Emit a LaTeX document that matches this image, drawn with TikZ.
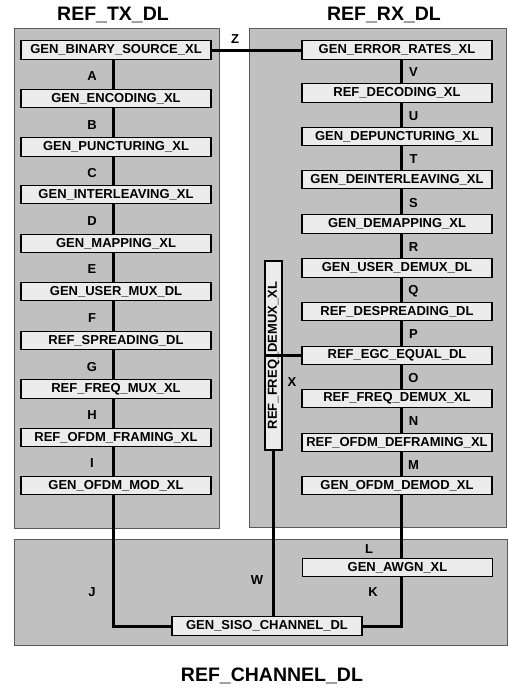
\documentclass[tikz,border=0pt]{standalone}
\usepackage{fontspec}
\setmainfont{Liberation Sans}
\usetikzlibrary{calc,positioning}
\definecolor{boxgray}{RGB}{192,192,192}
\definecolor{blkgray}{RGB}{236,236,236}
\definecolor{edgegray}{RGB}{90,90,90}
\begin{document}
\begin{tikzpicture}[x=1pt,y=-1pt,
blk/.style={draw,line width=1.3pt,fill=blkgray,minimum width=190pt,minimum height=18.5pt,inner sep=0pt,font=\bfseries\fontsize{13}{15}\selectfont},
lbl/.style={inner sep=0pt,font=\bfseries\fontsize{13}{15}\selectfont},
ttl/.style={inner sep=0pt,font=\bfseries\fontsize{19.5}{22}\selectfont},
grp/.style={draw=edgegray,line width=0.8pt,fill=boxgray},
conn/.style={line width=3pt}]
\useasboundingbox (0,0) rectangle (508,691);
\draw[grp] (14,28) rectangle (219,528);
\draw[grp] (249,28) rectangle (506,527);
\draw[grp] (14,539) rectangle (507.5,645);
\node[ttl] (ttx) at (113,15) {REF\_TX\_DL};
\node[ttl] (trx) at (384,15) {REF\_RX\_DL};
\node[ttl] (tch) at (272,676) {REF\_CHANNEL\_DL};
\coordinate (tx) at (113,0);
\coordinate (rx) at (401,0);
\node[blk] (tsrc) at (116,50) {GEN\_BINARY\_SOURCE\_XL};
\node[blk] (tenc) at (116,98.5) {GEN\_ENCODING\_XL};
\node[blk] (tpnc) at (116,147) {GEN\_PUNCTURING\_XL};
\node[blk] (tint) at (116,194.5) {GEN\_INTERLEAVING\_XL};
\node[blk] (tmap) at (116,243.5) {GEN\_MAPPING\_XL};
\node[blk] (tmux) at (116,291.5) {GEN\_USER\_MUX\_DL};
\node[blk] (tspr) at (116,340.5) {REF\_SPREADING\_DL};
\node[blk] (tfmx) at (116,389) {REF\_FREQ\_MUX\_XL};
\node[blk] (tfrm) at (116,437.5) {REF\_OFDM\_FRAMING\_XL};
\node[blk] (tmod) at (116,485.5) {GEN\_OFDM\_MOD\_XL};
\node[blk] (rerr) at (397,50) {GEN\_ERROR\_RATES\_XL};
\node[blk] (rdec) at (397,93) {REF\_DECODING\_XL};
\node[blk] (rdpn) at (397,136.5) {GEN\_DEPUNCTURING\_XL};
\node[blk] (rdint) at (397,179.5) {GEN\_DEINTERLEAVING\_XL};
\node[blk] (rdmap) at (397,224) {GEN\_DEMAPPING\_XL};
\node[blk] (rdmux) at (397,268) {GEN\_USER\_DEMUX\_DL};
\node[blk] (rdspr) at (397,311.5) {REF\_DESPREADING\_DL};
\node[blk] (regc) at (397,355.5) {REF\_EGC\_EQUAL\_DL};
\node[blk] (rfdmx) at (397,398.5) {REF\_FREQ\_DEMUX\_XL};
\node[blk] (rdfrm) at (397,442.5) {REF\_OFDM\_DEFRAMING\_XL};
\node[blk] (rdmod) at (397,485.5) {GEN\_OFDM\_DEMOD\_XL};
\node[blk,rotate=90,minimum width=189pt,minimum height=17pt] (vfdmx) at (273.5,355.5) {REF\_FREQ\_DEMUX\_XL};
\node[blk] (awgn) at (397.5,567.5) {GEN\_AWGN\_XL};
\node[blk] (siso) at (267,626) {GEN\_SISO\_CHANNEL\_DL};
\foreach \a/\b/\t in {tsrc/tenc/A,tenc/tpnc/B,tpnc/tint/C,tint/tmap/D,tmap/tmux/E,tmux/tspr/F,tspr/tfmx/G,tfmx/tfrm/H,tfrm/tmod/I}{
\draw[conn] (\a.south -| tx)--(\b.north -| tx);
\node[lbl] at ($(\a.south)!.5!(\b.north)+(-24,2)$) {\t};
}
\foreach \a/\b/\t in {rerr/rdec/V,rdec/rdpn/U,rdpn/rdint/T,rdint/rdmap/S,rdmap/rdmux/R,rdmux/rdspr/Q,rdspr/regc/P,regc/rfdmx/O,rfdmx/rdfrm/N,rdfrm/rdmod/M}{
\draw[conn] (\a.south -| rx)--(\b.north -| rx);
\node[lbl] at ($(\a.south)!.5!(\b.north)+(16.5,1)$) {\t};
}
\draw[conn] (tsrc)--(rerr);
\draw[conn] (vfdmx.north)--(regc.west);
\draw[conn] (vfdmx.west)--(vfdmx.west |- siso.north);
\draw[conn] (tmod.south -| tx) |- (siso.west);
\draw[conn] (rdmod.south -| rx)--(awgn.north -| rx);
\draw[conn] (awgn.south -| rx) |- (siso.east);
\node[lbl] (lz) at (235,39) {Z};
\node[lbl] (lx) at (292,382) {X};
\node[lbl] (lw) at (257,580) {W};
\node[lbl] (lj) at (92,592) {J};
\node[lbl] (ll) at (369,549) {L};
\node[lbl] (lk) at (373,592) {K};
\end{tikzpicture}
\end{document}
